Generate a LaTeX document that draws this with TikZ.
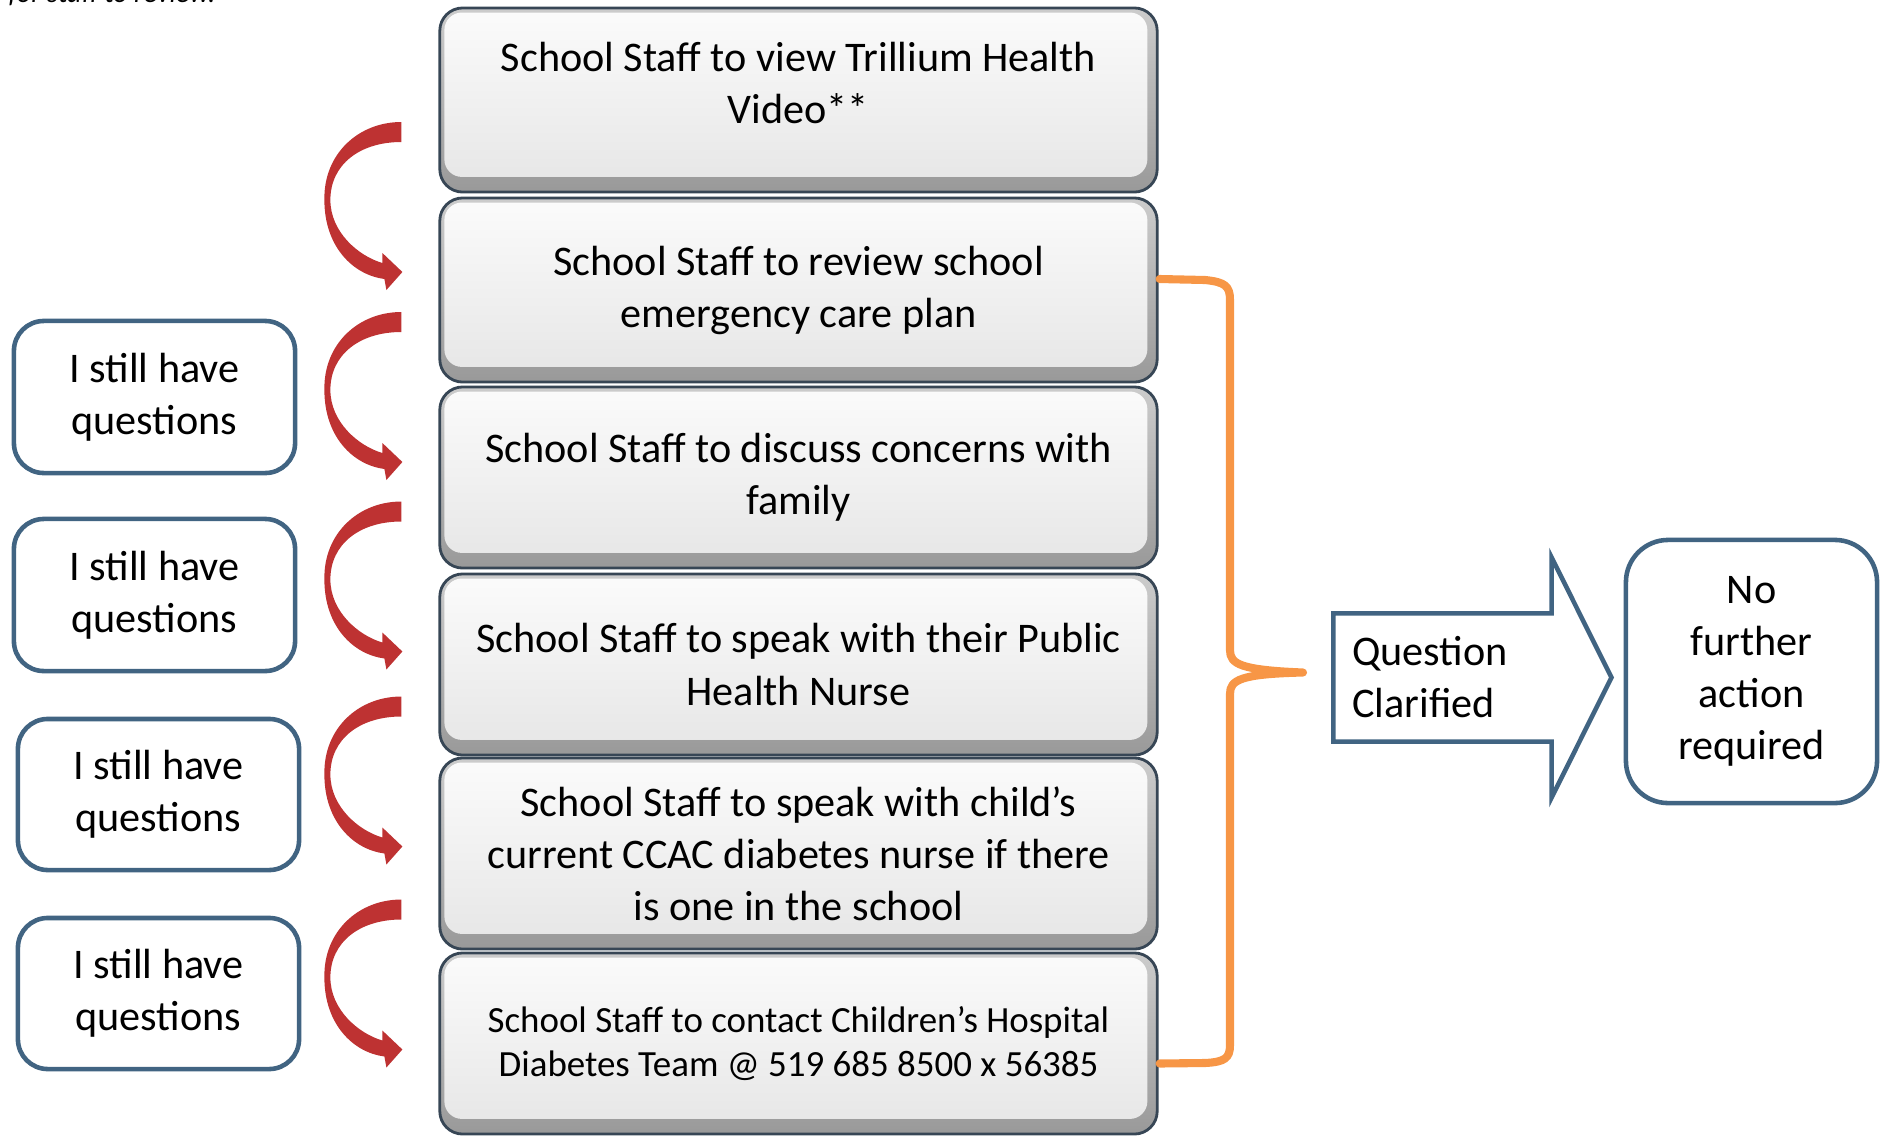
\documentclass[tikz,border=0pt]{standalone}
\usepackage{fontspec}
\setmainfont{Carlito}
\usetikzlibrary{shapes.arrows, calc}
\definecolor{boxedge}{RGB}{55,70,85}
\definecolor{askedge}{RGB}{65,100,130}
\definecolor{bracket}{RGB}{247,150,70}
\definecolor{curlred}{RGB}{190,50,50}

\tikzset{
  stepbox/.style={draw=boxedge, line width=0.8pt, rounded corners=6.5pt,
    top color=gray!40, bottom color=gray!80, minimum width=7.17cm,
    align=center, inner sep=2pt, font=\fontsize{12}{14.8}\selectfont,
    path picture={\shade[top color=gray!3, bottom color=gray!20, rounded corners=5pt]
      ([xshift=1.3pt,yshift=-1.3pt]path picture bounding box.north west) rectangle
      ([xshift=-2.8pt,yshift=4.3pt]path picture bounding box.south east);}},
  askbox/.style={draw=askedge, line width=1.3pt, rounded corners=8.5pt, fill=white,
    align=center, font=\fontsize{12}{14.8}\selectfont},
  qarrow/.style={single arrow, draw=askedge, line width=1.3pt, fill=white,
    single arrow head extend=0.55cm, single arrow tip angle=127,
    minimum height=2.78cm, minimum width=2.4cm, inner xsep=0pt, inner ysep=0.2cm,
    text width=2.08cm, align=left, font=\fontsize{12}{14.8}\selectfont},
  brace/.style={draw=bracket, line width=2.3pt, line join=round, line cap=round},
  curl/.style={fill=curlred}
}

\begin{document}
\begin{tikzpicture}[x=0.01cm, y=-0.01cm]
  \useasboundingbox (0,0) rectangle (1887,1136);
  % cut-off note at the top
  \node[font=\fontsize{8}{9}\selectfont\itshape, anchor=base west, inner sep=0pt] (note) at (8,2) {for staff to review.};

  % Steps
  \node[stepbox, minimum height=1.84cm] (s1) at (798.5,100) {School Staff to view Trillium Health\\Video**\\[-5pt]\mbox{}};
  \node[stepbox, minimum height=1.84cm] (s2) at (798.5,290) {School Staff to review school\\emergency care plan};
  \node[stepbox, minimum height=1.81cm] (s3) at (798.5,477.5) {School Staff to discuss concerns with\\family};
  \node[stepbox, minimum height=1.81cm] (s4) at (798.5,664.5) {School Staff to speak with their Public\\Health Nurse};
  \node[stepbox, minimum height=1.91cm] (s5) at (798.5,853.5) {School Staff to speak with child’s\\current CCAC diabetes nurse if there\\is one in the school};
  \node[stepbox, minimum height=1.81cm, font=\fontsize{10.5}{12.7}\selectfont] (s6) at (798.5,1043.5) {School Staff to contact Children’s Hospital\\Diabetes Team @ 519 685 8500 x 56385};

  % Questions
  \node[askbox, minimum width=2.81cm, minimum height=1.52cm] (q1) at (154.5,397) {I still have\\questions};
  \node[askbox, minimum width=2.81cm, minimum height=1.52cm] (q2) at (154.5,595) {I still have\\questions};
  \node[askbox, minimum width=2.81cm, minimum height=1.51cm] (q3) at (158.5,794.5) {I still have\\questions};
  \node[askbox, minimum width=2.81cm, minimum height=1.51cm] (q4) at (158.5,993.5) {I still have\\questions};

  % Outcome
  \node[qarrow, anchor=tail] (qa) at (1331,677.5) {Question\\Clarified};
  \node[askbox, minimum width=2.51cm, minimum height=2.63cm, rounded corners=12pt] (nf) at (1751.5,671.5) {No\\further\\action\\required};

  % Curved arrows
  \foreach \k/\dy in {1/32, 2/32, 3/34, 4/42, 5/56} {
    \begin{scope}[shift={($(s\k.west)+(-40,\dy)$)}]
      \fill[curl] (3,-10) .. controls (-40,-10) and (-75,22) .. (-74,68)
        .. controls (-74,115) and (-45,143) .. (-14,147)
        -- (-12,158) -- (4,140) -- (-16,121) -- (-16,131)
        .. controls (-40,124) and (-68,100) .. (-68,68)
        .. controls (-68,32) and (-38,10) .. (3,10) -- cycle;
    \end{scope}
  }

  % Bracket
  \coordinate (bt) at ($(qa.tail)+(-28,-5)$);
  \draw[brace] ($(s2.east)+(1,-11)$) -- (1205,280) .. controls (1225,282) and (1230,286) .. (1230,300)
    -- (1230,650) .. controls (1230,664) and (1240,670) .. (bt)
    .. controls (1240,674) and (1230,680) .. (1230,694)
    -- (1230,1045) .. controls (1230,1058) and (1225,1062) .. (1205,1063) -- ($(s6.east)+(1,20)$);
\end{tikzpicture}
\end{document}
